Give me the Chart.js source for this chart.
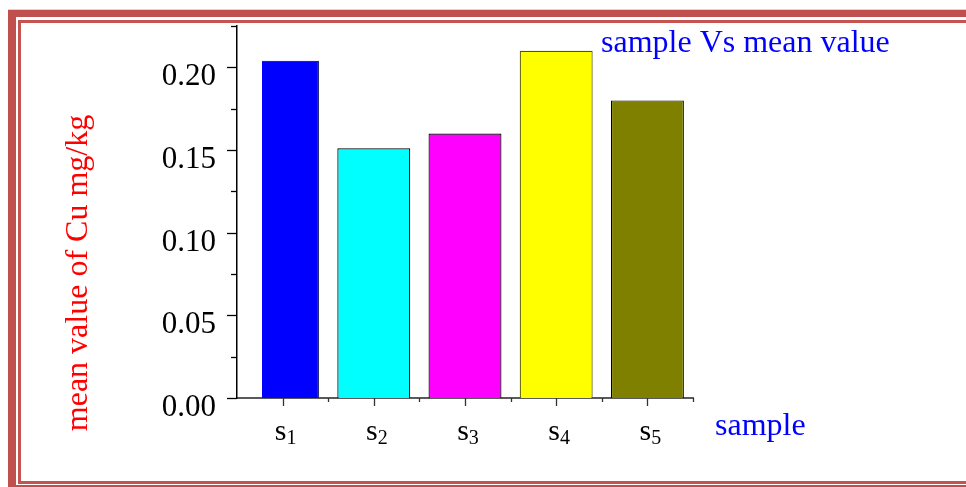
<!DOCTYPE html>
<html>
<head>
<meta charset="utf-8">
<script src="https://cdn.jsdelivr.net/npm/chart.js@4.4.1/dist/chart.umd.min.js"></script>
<style>
  html, body { margin: 0; padding: 0; background: #fff; overflow: hidden; }
  #wrap { position: relative; width: 966px; height: 487px; overflow: hidden; background: #fff; }
  .shade { position: absolute; left: 8px; top: 9px; width: 1000px; height: 1px; background: #d6d6d6; }
  .outer { position: absolute; left: 8px; top: 10px; width: 1000px; height: 483px; box-sizing: border-box;
           border-left: 8px solid #C0504D; border-top: 7px solid #C0504D; border-bottom: 8px solid #C0504D; }
  .inner { position: absolute; left: 18px; top: 20px; width: 1000px; height: 464px; box-sizing: border-box;
           border-left: 3px solid #C6534F; border-top: 3px solid #C6534F; border-bottom: 3px solid #C6534F; }
  canvas { position: absolute; left: 0; top: 0; }
</style>
</head>
<body>
<div id="wrap">
  <div class="shade"></div>
  <div class="outer"></div>
  <div class="inner"></div>
  <canvas id="chart" width="966" height="487"></canvas>
</div>
<script>
// Mean copper content per sample (mg/kg)
const categories = ['s1', 's2', 's3', 's4', 's5'];
const meanCu = [0.204, 0.151, 0.160, 0.210, 0.180];
const yTickLabels = [0.00, 0.05, 0.10, 0.15, 0.20];

const barColors = ['#0000FF', '#00FFFF', '#FF00FF', '#FFFF00', '#808000'];
const barEdges = ['#2a2a7a', '#000000', '#000000', '#555500', '#000000'];

const chartTitle = 'sample Vs mean value';
const xTitle = 'sample';
const yTitle = 'mean value of Cu mg/kg';

const serif = '"Liberation Serif", "Times New Roman", serif';

// Tick marks: long ticks for labelled values, short ones in between
const axisTicks = {
  id: 'axisTicks',
  afterDraw(chart) {
    const { ctx, chartArea, scales } = chart;
    const y = scales.y, x = scales.x;
    ctx.save();
    ctx.strokeStyle = '#000';
    ctx.lineWidth = 1.3;
    y.ticks.forEach(t => {
      const py = Math.round(y.getPixelForValue(t.value)) + 0.5;
      const major = yTickLabels.some(v => Math.abs(v - t.value) < 1e-9);
      const len = major ? 10 : 6;
      ctx.beginPath();
      ctx.moveTo(chartArea.left - len, py);
      ctx.lineTo(chartArea.left, py);
      ctx.stroke();
    });
    ctx.strokeStyle = '#333';
    const base = chartArea.bottom;
    const half = (x.getPixelForValue(1) - x.getPixelForValue(0)) / 2;
    categories.forEach((c, i) => {
      const cx = Math.round(x.getPixelForValue(i)) + 0.5;
      ctx.beginPath(); ctx.moveTo(cx, base); ctx.lineTo(cx, base + 8); ctx.stroke();
      const bx = Math.round(x.getPixelForValue(i) + half) + 0.5;
      ctx.beginPath(); ctx.moveTo(bx, base); ctx.lineTo(bx, base + 4); ctx.stroke();
    });
    ctx.restore();
  }
};

// Category labels drawn as a letter with a subscript index
const subscriptLabels = {
  id: 'subscriptLabels',
  afterDraw(chart) {
    const { ctx, scales } = chart;
    const x = scales.x;
    ctx.save();
    ctx.fillStyle = '#000';
    ctx.textBaseline = 'alphabetic';
    ctx.textAlign = 'left';
    categories.forEach((label, i) => {
      const letter = label.charAt(0);
      const index = label.slice(1);
      ctx.font = '30px ' + serif;
      const wl = ctx.measureText(letter).width;
      ctx.font = '20px ' + serif;
      const wi = ctx.measureText(index).width;
      const start = x.getPixelForValue(i) - (wl + wi) / 2 + 3;
      ctx.font = '30px ' + serif;
      ctx.fillText(letter, start, 440);
      ctx.font = '20px ' + serif;
      ctx.fillText(index, start + wl, 444);
    });
    ctx.restore();
  }
};

// Chart title and axis captions
const captions = {
  id: 'captions',
  afterDraw(chart) {
    const { ctx } = chart;
    ctx.save();
    ctx.font = '32px ' + serif;
    ctx.textBaseline = 'alphabetic';
    ctx.fillStyle = '#0000FF';
    ctx.textAlign = 'left';
    ctx.fillText(chartTitle, 601, 52);
    ctx.fillText(xTitle, 715, 435);
    ctx.translate(87, 273);
    ctx.rotate(-Math.PI / 2);
    ctx.textAlign = 'center';
    ctx.fillStyle = '#FF0000';
    ctx.fillText(yTitle, 0, 0);
    ctx.restore();
  }
};

new Chart(document.getElementById('chart'), {
  type: 'bar',
  data: {
    labels: categories,
    datasets: [{
      data: meanCu,
      backgroundColor: barColors,
      borderColor: barEdges,
      borderWidth: 1.2,
      barPercentage: 1.0,
      categoryPercentage: 0.8,
      clip: { left: -25, top: false, right: false, bottom: false }
    }]
  },
  options: {
    responsive: false,
    devicePixelRatio: 1,
    animation: false,
    layout: { padding: { left: 0, right: 273, top: 26, bottom: 29 } },
    plugins: {
      legend: { display: false },
      title: { display: false },
      tooltip: { enabled: false }
    },
    scales: {
      x: {
        grid: { display: false, drawTicks: false },
        border: { display: true, color: '#5a5a5a', width: 2 },
        ticks: { display: false },
        afterFit(scale) {
          scale.height = 60;
          scale.paddingLeft = 0; scale.paddingRight = 0;
          scale.paddingTop = 0; scale.paddingBottom = 0;
        }
      },
      y: {
        min: 0,
        max: 0.225,
        grid: { display: false, drawTicks: false },
        border: { display: true, color: '#000', width: 1.5 },
        ticks: {
          stepSize: 0.025,
          color: '#000',
          font: { family: serif, size: 31 },
          padding: 21,
          labelOffset: 10,
          callback(value) {
            return yTickLabels.some(v => Math.abs(v - value) < 1e-9) ? value.toFixed(2) : '';
          }
        },
        afterFit(scale) {
          scale.width = 237;
          scale.paddingLeft = 0; scale.paddingRight = 0;
          scale.paddingTop = 0; scale.paddingBottom = 0;
        }
      }
    }
  },
  plugins: [axisTicks, subscriptLabels, captions]
});
</script>
</body>
</html>
